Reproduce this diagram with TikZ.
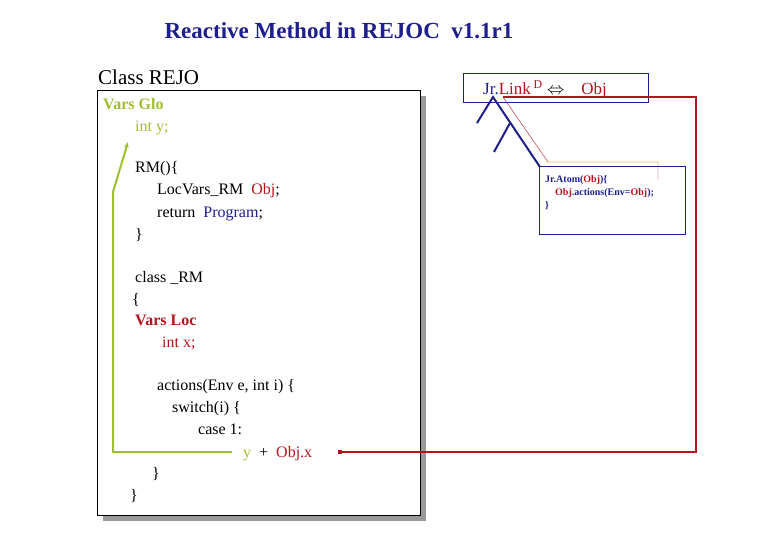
\documentclass[tikz,border=0pt]{standalone}
\usepackage{fontspec}
\setmainfont{Liberation Serif}
\usepackage{amssymb}
\usetikzlibrary{arrows.meta}
\definecolor{navy}{RGB}{30,30,140}
\definecolor{darkred}{RGB}{180,20,30}
\definecolor{lime}{RGB}{160,190,50}
\tikzset{
  code/.style={anchor=base west, inner sep=0pt, font=\fontsize{16}{18}\selectfont},
  small/.style={anchor=base west, inner sep=0pt, font=\fontsize{10}{11}\selectfont\bfseries, text=navy},
  tree/.style={navy, line width=2pt}
}
\begin{document}
\begin{tikzpicture}[x=1pt,y=-1pt]
\useasboundingbox (0,0) rectangle (780,540);
% title
\node[anchor=base, font=\fontsize{23}{25}\selectfont\bfseries, text=navy] (title) at (339,39) {Reactive Method in REJOC\ \ v1.1r1};
\node[anchor=base west, inner sep=0pt, font=\fontsize{21}{23}\selectfont] (cls) at (98,85) {Class REJO};
% main class box with shadow
\fill[gray!80] (103,96) rectangle (426,521);
\draw[fill=white] (97,90) rectangle (420,515);
% code lines
\node[code, text=lime, font=\fontsize{16}{18}\selectfont\bfseries] (vglo) at (103,110) {Vars Glo};
\node[code, text=lime] (inty) at (135,132) {int y;};
\node[code] (rm) at (135,173) {RM()\{};
\node[code] (loc) at (157,195) {LocVars\_RM\ \ \textcolor{darkred}{Obj};};
\node[code] (ret) at (157,218) {return\ \ \textcolor{navy}{Program};};
\node[code] (rmend) at (135,240) {\}};
\node[code] (crm) at (135,283) {class \_RM};
\node[code] (cbeg) at (132,305) {\{};
\node[code, text=darkred, font=\fontsize{16}{18}\selectfont\bfseries] (vloc) at (135,326) {Vars Loc};
\node[code, text=darkred] (intx) at (162,348) {int x;};
\node[code] (act) at (157,391) {actions(Env e, int i) \{};
\node[code] (sw) at (172,413) {switch(i) \{};
\node[code] (case) at (198,435) {case 1:};
\node[code] (expr) at (243,457) {\textcolor{lime}{y}\ \ +\ \ \textcolor{darkred}{Obj.x}};
\node[code] (swend) at (152,478) {\}};
\node[code] (cend) at (130,500) {\}};
% green dependency
\coordinate (g1) at (232,452);
\draw[lime, line width=2pt, -{Stealth[length=6pt]}] (g1) -- (113,452) -- (113,192) -- (128,142);
% Jr.Link box
\draw[navy] (463,73) rectangle (648,102);
\node[anchor=base west, inner sep=0pt, font=\fontsize{17}{19}\selectfont] (link) at (483,95)
  {\textcolor{navy}{Jr.}\textcolor{darkred}{Link\,\textsuperscript{D}}\ $\Leftrightarrow$\ \ \ \ \textcolor{darkred}{Obj}};
% Atom box
\draw[navy] (539,166) rectangle (685,234);
\node[small] (atom1) at (545,183) {Jr.Atom(\textcolor{darkred}{Obj})\{};
\node[small] (atom2) at (555,196) {\textcolor{darkred}{Obj}.actions(Env=\textcolor{darkred}{Obj});};
\node[small] (atom3) at (545,209) {\}};
% tree
\coordinate (t0) at (493,97);
\coordinate (t1) at (510,123);
\draw[tree] (477,123) -- (t0) -- (540,167);
\draw[tree] (494,152) -- (t1);
% red connections
\draw[darkred, thin] (503,97) -- (548,162) -- (658,162) -- (658,180);
\draw[darkred, line width=1.2pt] (503,97) -- (696,97) -- (696,452) -- (340,452);
\fill[darkred] (338,450) rectangle (342,454);
\end{tikzpicture}
\end{document}
